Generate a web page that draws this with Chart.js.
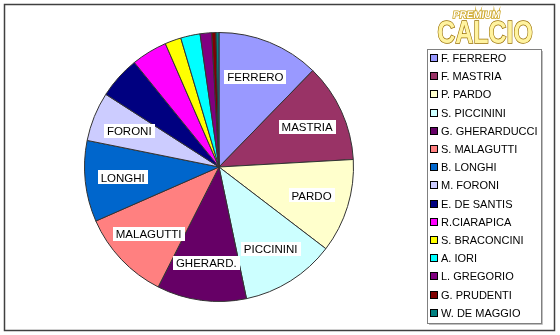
<!DOCTYPE html>
<html lang="it">
<head>
  <meta charset="UTF-8">
  <title>Premium Calcio - giocatori</title>
  <style>
    body { margin: 0; background: #fff; }
    .wrap { position: relative; width: 560px; height: 335px; }
  </style>
  <script src="https://cdn.jsdelivr.net/npm/chart.js"></script>
</head>
<body>
  <div class="wrap">
    <canvas id="torta" width="560" height="335"></canvas>
  </div>

  <script>
    // dati
    const players = ['F. FERRERO', 'F. MASTRIA', 'P. PARDO', 'S. PICCININI', 'G. GHERARDUCCI',
      'S. MALAGUTTI', 'B. LONGHI', 'M. FORONI', 'E. DE SANTIS', 'R.CIARAPICA',
      'S. BRACONCINI', 'A. IORI', 'L. GREGORIO', 'G. PRUDENTI', 'W. DE MAGGIO'];
    const values = [44.2, 42.6, 40.6, 40.8, 38.7, 39.4, 35.1, 21.3, 18.3, 15.5, 7, 8.4, 5, 1.8, 1.3];
    const sliceLabels = ['FERRERO', 'MASTRIA', 'PARDO', 'PICCININI', 'GHERARD.', 'MALAGUTTI',
      'LONGHI', 'FORONI', '', '', '', '', '', '', ''];
    const colors = ['#9999FF', '#993366', '#FFFFCC', '#CCFFFF', '#660066', '#FF8080', '#0066CC',
      '#CCCCFF', '#000080', '#FF00FF', '#FFFF00', '#00FFFF', '#800080', '#800000', '#008080'];

    const FONT = '"Liberation Sans", Arial, sans-serif';

    // etichette bianche dentro le fette
    const sliceText = {
      id: 'sliceText',
      afterDatasetsDraw(chart) {
        const ctx = chart.ctx;
        const meta = chart.getDatasetMeta(0);
        ctx.save();
        ctx.font = '11.5px ' + FONT;
        ctx.textBaseline = 'middle';
        ctx.textAlign = 'center';
        meta.data.forEach((arc, i) => {
          const txt = sliceLabels[i];
          if (!txt) return;
          const p = arc.getProps(['x', 'y', 'startAngle', 'endAngle', 'outerRadius'], true);
          const mid = (p.startAngle + p.endAngle) / 2;
          const r = p.outerRadius * 0.72;
          const cx = p.x + Math.cos(mid) * r;
          const cy = p.y + Math.sin(mid) * r;
          const w = ctx.measureText(txt).width + 6;
          ctx.fillStyle = '#fff';
          ctx.fillRect(Math.round(cx - w / 2), Math.round(cy - 7), Math.round(w), 14);
          ctx.fillStyle = '#000';
          ctx.fillText(txt, cx, cy + 1);
        });
        ctx.restore();
      }
    };

    // cornice, legenda e logo
    const decor = {
      id: 'decor',
      afterDraw(chart) {
        const ctx = chart.ctx;
        ctx.save();
        // cornice esterna
        ctx.strokeStyle = '#404040';
        ctx.lineWidth = 1.5;
        ctx.strokeRect(4.5, 4.5, 550, 326);

        // riquadro legenda
        ctx.strokeStyle = '#808080';
        ctx.lineWidth = 1;
        ctx.strokeRect(427.5, 49.5, 114, 274);
        ctx.strokeStyle = '#c0c0c0';
        ctx.beginPath();
        ctx.moveTo(542.5, 51); ctx.lineTo(542.5, 324.5); ctx.lineTo(429, 324.5);
        ctx.stroke();

        ctx.font = '11px ' + FONT;
        ctx.textBaseline = 'middle';
        ctx.textAlign = 'left';
        players.forEach((name, i) => {
          const y = 58 + i * 18.2;
          ctx.fillStyle = colors[i];
          ctx.fillRect(431, Math.round(y) - 3, 6, 6);
          ctx.strokeStyle = '#000';
          ctx.strokeRect(430.5, Math.round(y) - 3.5, 7, 7);
          ctx.fillStyle = '#000';
          ctx.fillText(name, 441, y + 1);
        });

        // logo
        const g = ctx.createLinearGradient(0, 20, 0, 44);
        g.addColorStop(0, '#fff3a0');
        g.addColorStop(0.45, '#f5cc18');
        g.addColorStop(1, '#b58408');
        ctx.textAlign = 'center';
        ctx.textBaseline = 'alphabetic';
        ctx.save();
        ctx.translate(485, 43);
        ctx.scale(0.78, 1);
        ctx.font = 'bold 32px ' + FONT;
        ctx.lineWidth = 1.5;
        ctx.strokeStyle = '#9a7000';
        ctx.strokeText('CALCIO', 0, 0);
        ctx.fillStyle = g;
        ctx.fillText('CALCIO', 0, 0);
        ctx.restore();

        ctx.save();
        ctx.translate(476, 18);
        ctx.transform(1, 0, -0.15, 1, 0, 0);
        ctx.font = 'bold 10px ' + FONT;
        ctx.lineWidth = 1.5;
        ctx.strokeStyle = '#c9a018';
        ctx.strokeText('PREMIUM', 0, 0);
        ctx.fillStyle = '#ffffff';
        ctx.fillText('PREMIUM', 0, 0);
        ctx.restore();

        ctx.restore();
      }
    };

    new Chart(document.getElementById('torta').getContext('2d'), {
      type: 'pie',
      data: {
        labels: players,
        datasets: [{
          data: values,
          backgroundColor: colors,
          borderColor: '#333333',
          borderWidth: 1
        }]
      },
      options: {
        responsive: false,
        animation: false,
        layout: { padding: { left: 84, right: 206, top: 32, bottom: 33 } },
        plugins: {
          legend: { display: false },
          tooltip: { enabled: false }
        }
      },
      plugins: [sliceText, decor]
    });
  </script>
</body>
</html>
